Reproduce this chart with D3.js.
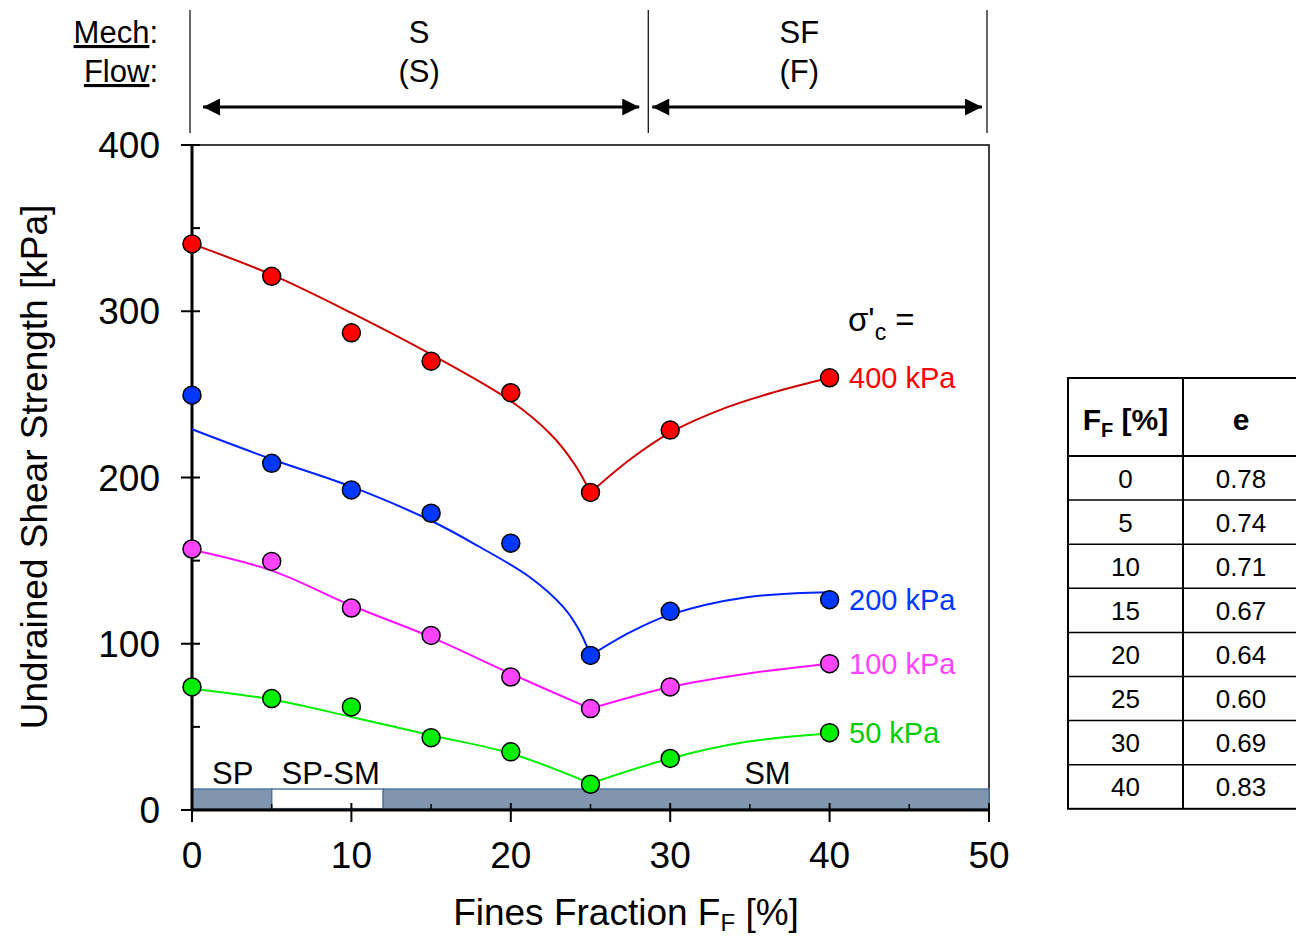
<!DOCTYPE html>
<html>
<head>
<meta charset="utf-8">
<script src="https://cdn.jsdelivr.net/npm/d3@7"></script>
<style>
  html, body { margin: 0; padding: 0; background: #fff; }
  svg { display: block; font-family: "Liberation Sans", Arial, sans-serif; }
</style>
</head>
<body>
<svg id="chart" width="1296" height="936"></svg>
<script>
// Fines fraction of each specimen [%]
const finesFraction = [0, 5, 10, 15, 20, 25, 30, 40];

// Measured undrained shear strength [kPa] for each consolidation stress
const su400 = [340.5, 321, 287, 270, 251, 191, 228.5, 260];
const su200 = [249.5, 208.5, 192.5, 178.5, 160.5, 93, 119.5, 126.5];
const su100 = [157, 149.5, 121.5, 105, 80, 61, 74, 88];
const su50  = [74, 67, 62, 43.5, 35, 15.5, 31, 46.5];

// Trend curves [fines %, strength kPa], drawn separately either side of 25 %
const trend400Left  = [[0, 340.5], [5, 322], [10, 299], [15, 274], [20, 246], [22.5, 226], [24, 208], [25, 191]];
const trend400Right = [[25, 191], [27.5, 211], [30, 227], [33.5, 242], [36.6, 251.5], [40, 260]];
const trend200Left  = [[0, 229], [5, 211], [10, 194.5], [15, 174], [18, 158.5], [21.2, 140], [23.3, 122], [24.3, 108], [25, 93]];
const trend200Right = [[25, 93], [27.5, 107], [30, 117.5], [34.8, 128], [40, 131]];
const trend100Left  = [[0, 156.5], [5, 144], [10, 123], [15, 104], [20, 82], [25, 61]];
const trend100Right = [[25, 61], [30, 74], [34.8, 82], [40, 88]];
const trend50Left   = [[0, 73], [5, 66.5], [10, 56], [15, 45], [20, 34], [25, 16]];
const trend50Right  = [[25, 16], [30, 31], [34.8, 41], [40, 46]];

// Series styling / labels
const seriesNames = ["400 kPa", "200 kPa", "100 kPa", "50 kPa"];
const seriesValues = [su400, su200, su100, su50];
const seriesTrends = [[trend400Left, trend400Right], [trend200Left, trend200Right],
                      [trend100Left, trend100Right], [trend50Left, trend50Right]];
const markerColors = ["#ff0000", "#0038ff", "#ff44ff", "#00ee00"];
const lineColors   = ["#cc0000", "#0022ff", "#ff11ff", "#00ee00"];
const labelColors  = ["#ff0000", "#0038ff", "#ff44ff", "#00cc00"];

// Axis ticks
const yMajorTicks = [0, 100, 200, 300, 400];
const yMinorTicks = [50, 150, 250, 350];
const xMajorTicks = [0, 10, 20, 30, 40, 50];
const xMinorTicks = [5, 15, 25, 35, 45];

// USCS classification band along the bottom
const uscsBands  = [[0, 5, "grey"], [5, 12, "white"], [12, 50, "grey"]];
const uscsLabels = [["SP", 2.55], ["SP-SM", 8.7], ["SM", 36.1]];

// Behaviour zones (mechanical / flow)
const zoneBounds = [0, 28.75, 50];
const zoneLabelAt = [14.25, 38.1];
const zoneMech = ["S", "SF"];
const zoneFlow = ["(S)", "(F)"];

// Void ratio table
const tableFines = ["0", "5", "10", "15", "20", "25", "30", "40"];
const tableVoid  = ["0.78", "0.74", "0.71", "0.67", "0.64", "0.60", "0.69", "0.83"];

const svg = d3.select("#chart");
const x = d3.scaleLinear().domain([0, 50]).range([192, 989]);
const y = d3.scaleLinear().domain([0, 400]).range([810, 145]);

// arrowhead markers
const defs = svg.append("defs");
["start", "end"].forEach(k => {
  defs.append("marker")
    .attr("id", "arrow-" + k)
    .attr("viewBox", "0 0 10 10")
    .attr("refX", k === "end" ? 10 : 0).attr("refY", 5)
    .attr("markerWidth", 30).attr("markerHeight", 17)
    .attr("markerUnits", "userSpaceOnUse")
    .attr("orient", "auto")
    .append("path")
    .attr("d", k === "end" ? "M0,0 L10,5 L0,10 Z" : "M10,0 L0,5 L10,10 Z")
    .attr("fill", "#000");
});

// ---- header: behaviour zones ----
const header = svg.append("g");
zoneBounds.forEach(v => {
  header.append("line")
    .attr("x1", x(v) - 2).attr("x2", x(v) - 2)
    .attr("y1", 10).attr("y2", 133)
    .attr("stroke", "#000").attr("stroke-width", 1.2);
});
const arrowPad = [[11, 11], [2, 7]];
zoneMech.forEach((t, i) => {
  const cx = x(zoneLabelAt[i]);
  header.append("text").attr("x", cx).attr("y", 43)
    .attr("text-anchor", "middle").attr("font-size", 31).text(t);
  header.append("text").attr("x", cx).attr("y", 82)
    .attr("text-anchor", "middle").attr("font-size", 31).text(zoneFlow[i]);
  header.append("line")
    .attr("x1", x(zoneBounds[i]) + arrowPad[i][0]).attr("x2", x(zoneBounds[i + 1]) - arrowPad[i][1])
    .attr("y1", 107).attr("y2", 107)
    .attr("stroke", "#000").attr("stroke-width", 3)
    .attr("marker-start", "url(#arrow-start)")
    .attr("marker-end", "url(#arrow-end)");
});
[["Mech", 43], ["Flow", 82]].forEach(([t, yy]) => {
  const txt = header.append("text").attr("x", 158).attr("y", yy)
    .attr("text-anchor", "end").attr("font-size", 31);
  txt.append("tspan").attr("text-decoration", "underline").text(t);
  txt.append("tspan").text(":");
});

// ---- plot frame ----
svg.append("rect")
  .attr("x", x(0)).attr("y", y(400))
  .attr("width", x(50) - x(0)).attr("height", y(0) - y(400))
  .attr("fill", "none").attr("stroke", "#000").attr("stroke-width", 1.5);

// ---- USCS band ----
const band = svg.append("g");
uscsBands.forEach(([a, b, kind]) => {
  band.append("rect")
    .attr("x", x(a)).attr("y", y(12.6))
    .attr("width", x(b) - x(a)).attr("height", y(0.8) - y(12.6))
    .attr("fill", kind === "grey" ? "#8196ae" : "#ffffff")
    .attr("stroke", "#4f77a4").attr("stroke-width", 1.5);
});
uscsLabels.forEach(([t, v]) => {
  band.append("text").attr("x", x(v)).attr("y", 784)
    .attr("text-anchor", "middle").attr("font-size", 31).text(t);
});

// ---- axes ----
const axes = svg.append("g");
axes.append("line").attr("x1", x(0)).attr("x2", x(0)).attr("y1", y(0) + 1).attr("y2", y(400))
  .attr("stroke", "#000").attr("stroke-width", 3);
axes.append("line").attr("x1", x(0) - 1).attr("x2", x(50)).attr("y1", y(0)).attr("y2", y(0))
  .attr("stroke", "#000").attr("stroke-width", 3);

yMajorTicks.forEach(v => {
  axes.append("line").attr("x1", x(0) - 11).attr("x2", x(0) + 8)
    .attr("y1", y(v)).attr("y2", y(v)).attr("stroke", "#000").attr("stroke-width", 2);
  axes.append("text").attr("x", 160).attr("y", y(v) + 13)
    .attr("text-anchor", "end").attr("font-size", 37).text(v);
});
yMinorTicks.forEach(v => {
  axes.append("line").attr("x1", x(0)).attr("x2", x(0) + 8)
    .attr("y1", y(v)).attr("y2", y(v)).attr("stroke", "#000").attr("stroke-width", 2);
});
xMajorTicks.forEach(v => {
  axes.append("line").attr("x1", x(v)).attr("x2", x(v))
    .attr("y1", y(0) - 7).attr("y2", y(0) + 12).attr("stroke", "#000").attr("stroke-width", 2);
  axes.append("text").attr("x", x(v)).attr("y", 868)
    .attr("text-anchor", "middle").attr("font-size", 37).text(v);
});
xMinorTicks.forEach(v => {
  axes.append("line").attr("x1", x(v)).attr("x2", x(v))
    .attr("y1", y(0) - 6).attr("y2", y(0)).attr("stroke", "#000").attr("stroke-width", 1.5);
});

// axis titles
const xt = svg.append("text").attr("x", 626).attr("y", 925)
  .attr("text-anchor", "middle").attr("font-size", 37);
xt.append("tspan").text("Fines Fraction F");
xt.append("tspan").attr("font-size", 24).attr("dy", 6).text("F");
xt.append("tspan").attr("dy", -6).text(" [%]");

svg.append("text")
  .attr("transform", "translate(47,467) rotate(-90)")
  .attr("text-anchor", "middle").attr("font-size", 37)
  .text("Undrained Shear Strength [kPa]");

// ---- trend curves and data points ----
const line = d3.line().x(d => x(d[0])).y(d => y(d[1])).curve(d3.curveCatmullRom.alpha(0.5));
const plot = svg.append("g");
seriesTrends.forEach((branches, i) => {
  branches.forEach(b => {
    plot.append("path").attr("d", line(b))
      .attr("fill", "none").attr("stroke", lineColors[i]).attr("stroke-width", 2);
  });
});
seriesValues.forEach((vals, i) => {
  plot.selectAll(null).data(vals).enter().append("circle")
    .attr("cx", (d, j) => x(finesFraction[j]))
    .attr("cy", d => y(d))
    .attr("r", 9)
    .attr("fill", markerColors[i])
    .attr("stroke", "#000").attr("stroke-width", 1.5);
});

// series labels at the right end
const labelY = [y(su400[7]), y(su200[7]), y(su100[7]), y(su50[7])];
seriesNames.forEach((n, i) => {
  plot.append("text").attr("x", 849).attr("y", labelY[i] + 10)
    .attr("font-size", 29).attr("fill", labelColors[i]).text(n);
});
const sig = plot.append("text").attr("x", 848).attr("y", 331).attr("font-size", 33);
sig.append("tspan").text("σ'");
sig.append("tspan").attr("font-size", 23).attr("dy", 9).text("c");
sig.append("tspan").attr("dy", -9).text(" =");

// ---- void ratio table ----
const tbl = svg.append("g");
const colX = [1068, 1183, 1300];
const headerTop = 378, headerBottom = 456, rowH = 44.1;
const tableBottom = headerBottom + rowH * tableFines.length;
tbl.append("rect").attr("x", colX[0]).attr("y", headerTop)
  .attr("width", colX[2] - colX[0]).attr("height", tableBottom - headerTop)
  .attr("fill", "none").attr("stroke", "#000").attr("stroke-width", 2);
tbl.append("line").attr("x1", colX[1]).attr("x2", colX[1])
  .attr("y1", headerTop).attr("y2", tableBottom).attr("stroke", "#000").attr("stroke-width", 2);
tbl.append("line").attr("x1", colX[0]).attr("x2", colX[2])
  .attr("y1", headerBottom).attr("y2", headerBottom).attr("stroke", "#000").attr("stroke-width", 2);
tableFines.forEach((f, i) => {
  const top = headerBottom + rowH * i;
  if (i > 0) {
    tbl.append("line").attr("x1", colX[0]).attr("x2", colX[2])
      .attr("y1", top).attr("y2", top).attr("stroke", "#000").attr("stroke-width", 1.5);
  }
  tbl.append("text").attr("x", (colX[0] + colX[1]) / 2).attr("y", top + rowH / 2 + 9.5)
    .attr("text-anchor", "middle").attr("font-size", 26).text(f);
  tbl.append("text").attr("x", 1241).attr("y", top + rowH / 2 + 9.5)
    .attr("text-anchor", "middle").attr("font-size", 26).text(tableVoid[i]);
});
const th = tbl.append("text").attr("x", (colX[0] + colX[1]) / 2).attr("y", 430)
  .attr("text-anchor", "middle").attr("font-size", 30).attr("font-weight", "bold");
th.append("tspan").text("F");
th.append("tspan").attr("font-size", 20).attr("dy", 7).text("F");
th.append("tspan").attr("dy", -7).text(" [%]");
tbl.append("text").attr("x", 1241).attr("y", 430)
  .attr("text-anchor", "middle").attr("font-size", 30).attr("font-weight", "bold").text("e");
</script>
</body>
</html>
